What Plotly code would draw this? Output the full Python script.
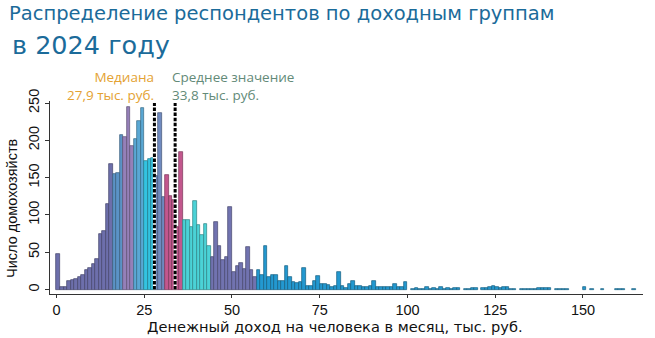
import plotly.graph_objects as go

# Household counts per 1 thousand-rouble income bin, starting at bin [0, 1)
counts = [
    47, 4, 4, 12, 13, 14, 17, 20, 26, 29,
    34, 41, 75, 78, 114, 168, 155, 156, 207, 205,
    245, 193, 202, 226, 243, 172, 175, 176, 152, 236,
    124, 153, 126, 120, 84, 185, 93, 93, 84, 118,
    87, 73, 88, 59, 43, 90, 59, 39, 43, 111,
    23, 31, 35, 27, 57, 26, 17, 26, 20, 58,
    17, 20, 20, 11, 12, 32, 17, 10, 9, 10,
    29, 5, 5, 12, 18, 8, 8, 6, 4, 5,
    23, 5, 2, 8, 11, 5, 5, 4, 3, 5,
    12, 3, 3, 4, 3, 3, 8, 3, 3, 10,
    0, 1, 2, 1, 1, 3, 1, 2, 1, 3,
    1, 2, 1, 2, 2, 0, 1, 1, 2, 2,
    0, 2, 2, 3, 5, 3, 2, 4, 4, 1,
    1, 0, 1, 1, 1, 1, 1, 2, 2, 2,
    2, 0, 1, 1, 1, 1, 0, 0, 0, 0,
    3, 0, 1, 0, 0, 1, 0, 0, 0, 1,
    1, 1, 0, 0, 1, 0,
]

# First bin of each income decile (deciles 2..10)
decile_starts = [16, 19, 22, 25, 28, 31, 36, 44, 57]
decile_colors = [
    "#6d6fab", "#5b93c6", "#9580b8", "#5aa8d4", "#34c3e0",
    "#6f8abf", "#c2578d", "#4bd2d6", "#7173b0", "#2398d0",
]

median_value = 27.9
mean_value = 33.8
median_label = "27,9 тыс. руб."
mean_label = "33,8 тыс. руб."

x_ticks = [0, 25, 50, 75, 100, 125, 150]
y_ticks = [0, 50, 100, 150, 200, 250]

PLOT_W = 593   # plot area width in px
PLOT_H = 193   # plot area height in px
PLOT_L = 50
PLOT_B = 294   # px row of the x axis line


def px_x(p):
    return (p - PLOT_L) / PLOT_W


def px_y(p):
    return (PLOT_B - p) / PLOT_H


def darker(hex_color, k=0.62):
    h = hex_color.lstrip("#")
    r, g, b = (int(h[i:i + 2], 16) for i in (0, 2, 4))
    return "#%02x%02x%02x" % (int(r * k), int(g * k), int(b * k))


def decile_of(i):
    d = 0
    for s in decile_starts:
        if i >= s:
            d += 1
    return d


centers = [i + 0.5 for i in range(len(counts))]
heights = [c if c > 0 else None for c in counts]
fills = [decile_colors[decile_of(i)] for i in range(len(counts))]
edges = [darker(c) for c in fills]

fig = go.Figure(
    go.Bar(
        x=centers,
        y=heights,
        width=1.0,
        marker=dict(color=fills, line=dict(color=edges, width=0.7)),
        hoverinfo="x+y",
    )
)

# Median and mean markers: white underlay + black dashes
for v in (median_value, mean_value):
    fig.add_shape(type="line", xref="x", yref="y", x0=v, x1=v, y0=0, y1=250,
                  line=dict(color="white", width=3))
    fig.add_shape(type="line", xref="x", yref="y", x0=v, x1=v, y0=0, y1=250,
                  line=dict(color="black", width=3, dash="3.5px,1.6px"))

ann_font = "Open Sans"
median_color = "#e4a233"
mean_color = "#638a78"
fig.add_annotation(x=median_value, y=px_y(86.5), xref="x", yref="paper",
                   text="Медиана<br>" + median_label, align="right",
                   showarrow=False, xanchor="right", yanchor="middle", xshift=1,
                   borderpad=0,
                   font=dict(family=ann_font, size=13.5, color=median_color))
fig.add_annotation(x=mean_value, y=px_y(86.5), xref="x", yref="paper",
                   text="Среднее значение<br>" + mean_label, align="left",
                   showarrow=False, xanchor="left", yanchor="middle", xshift=-4,
                   borderpad=0,
                   font=dict(family=ann_font, size=13.5, color=mean_color))

# Two-line heading
title_color = "#1b6b9a"
fig.add_annotation(x=px_x(7), y=px_y(14), xref="paper", yref="paper",
                   text="Распределение респондентов по доходным группам",
                   showarrow=False, xanchor="left", yanchor="middle",
                   font=dict(family="DejaVu Sans", size=19.5, color=title_color))
fig.add_annotation(x=px_x(10), y=px_y(45), xref="paper", yref="paper",
                   text="в 2024 году",
                   showarrow=False, xanchor="left", yanchor="middle",
                   font=dict(family="DejaVu Sans", size=25.5, color=title_color))

# Axis titles
fig.add_annotation(x=px_x(335), y=px_y(326.5), xref="paper", yref="paper",
                   text="Денежный доход на человека в месяц, тыс. руб.",
                   showarrow=False, xanchor="center", yanchor="middle",
                   borderpad=0,
                   font=dict(family="DejaVu Sans", size=14.6, color="#111111"))
fig.add_annotation(x=px_x(12), y=px_y(208), xref="paper", yref="paper",
                   text="Число домохозяйств", textangle=-90,
                   showarrow=False, xanchor="center", yanchor="middle",
                   font=dict(family="Liberation Sans", size=14.5, color="#111111"))

fig.update_layout(
    width=655,
    height=338,
    margin=dict(l=PLOT_L, r=655 - PLOT_L - PLOT_W, t=PLOT_B - PLOT_H, b=338 - PLOT_B),
    paper_bgcolor="white",
    plot_bgcolor="white",
    bargap=0,
    showlegend=False,
    xaxis=dict(
        range=[-1.85, 167.1],
        tickmode="array",
        tickvals=x_ticks,
        ticktext=[str(t) for t in x_ticks],
        ticks="outside",
        ticklen=3,
        tickcolor="#333333",
        showline=True,
        linecolor="#333333",
        linewidth=1,
        showgrid=False,
        zeroline=False,
        automargin=False,
        tickfont=dict(family="Liberation Sans", size=14.5, color="#111111"),
    ),
    yaxis=dict(
        range=[-6, 252.7],
        tickmode="array",
        tickvals=y_ticks,
        ticktext=[str(t) for t in y_ticks],
        tickangle=-90,
        ticks="outside",
        ticklen=4,
        tickcolor="#333333",
        showline=True,
        linecolor="#333333",
        linewidth=1,
        showgrid=False,
        zeroline=False,
        automargin=False,
        tickfont=dict(family="Liberation Sans", size=14.5, color="#111111"),
    ),
)

fig.write_html("out.html")
